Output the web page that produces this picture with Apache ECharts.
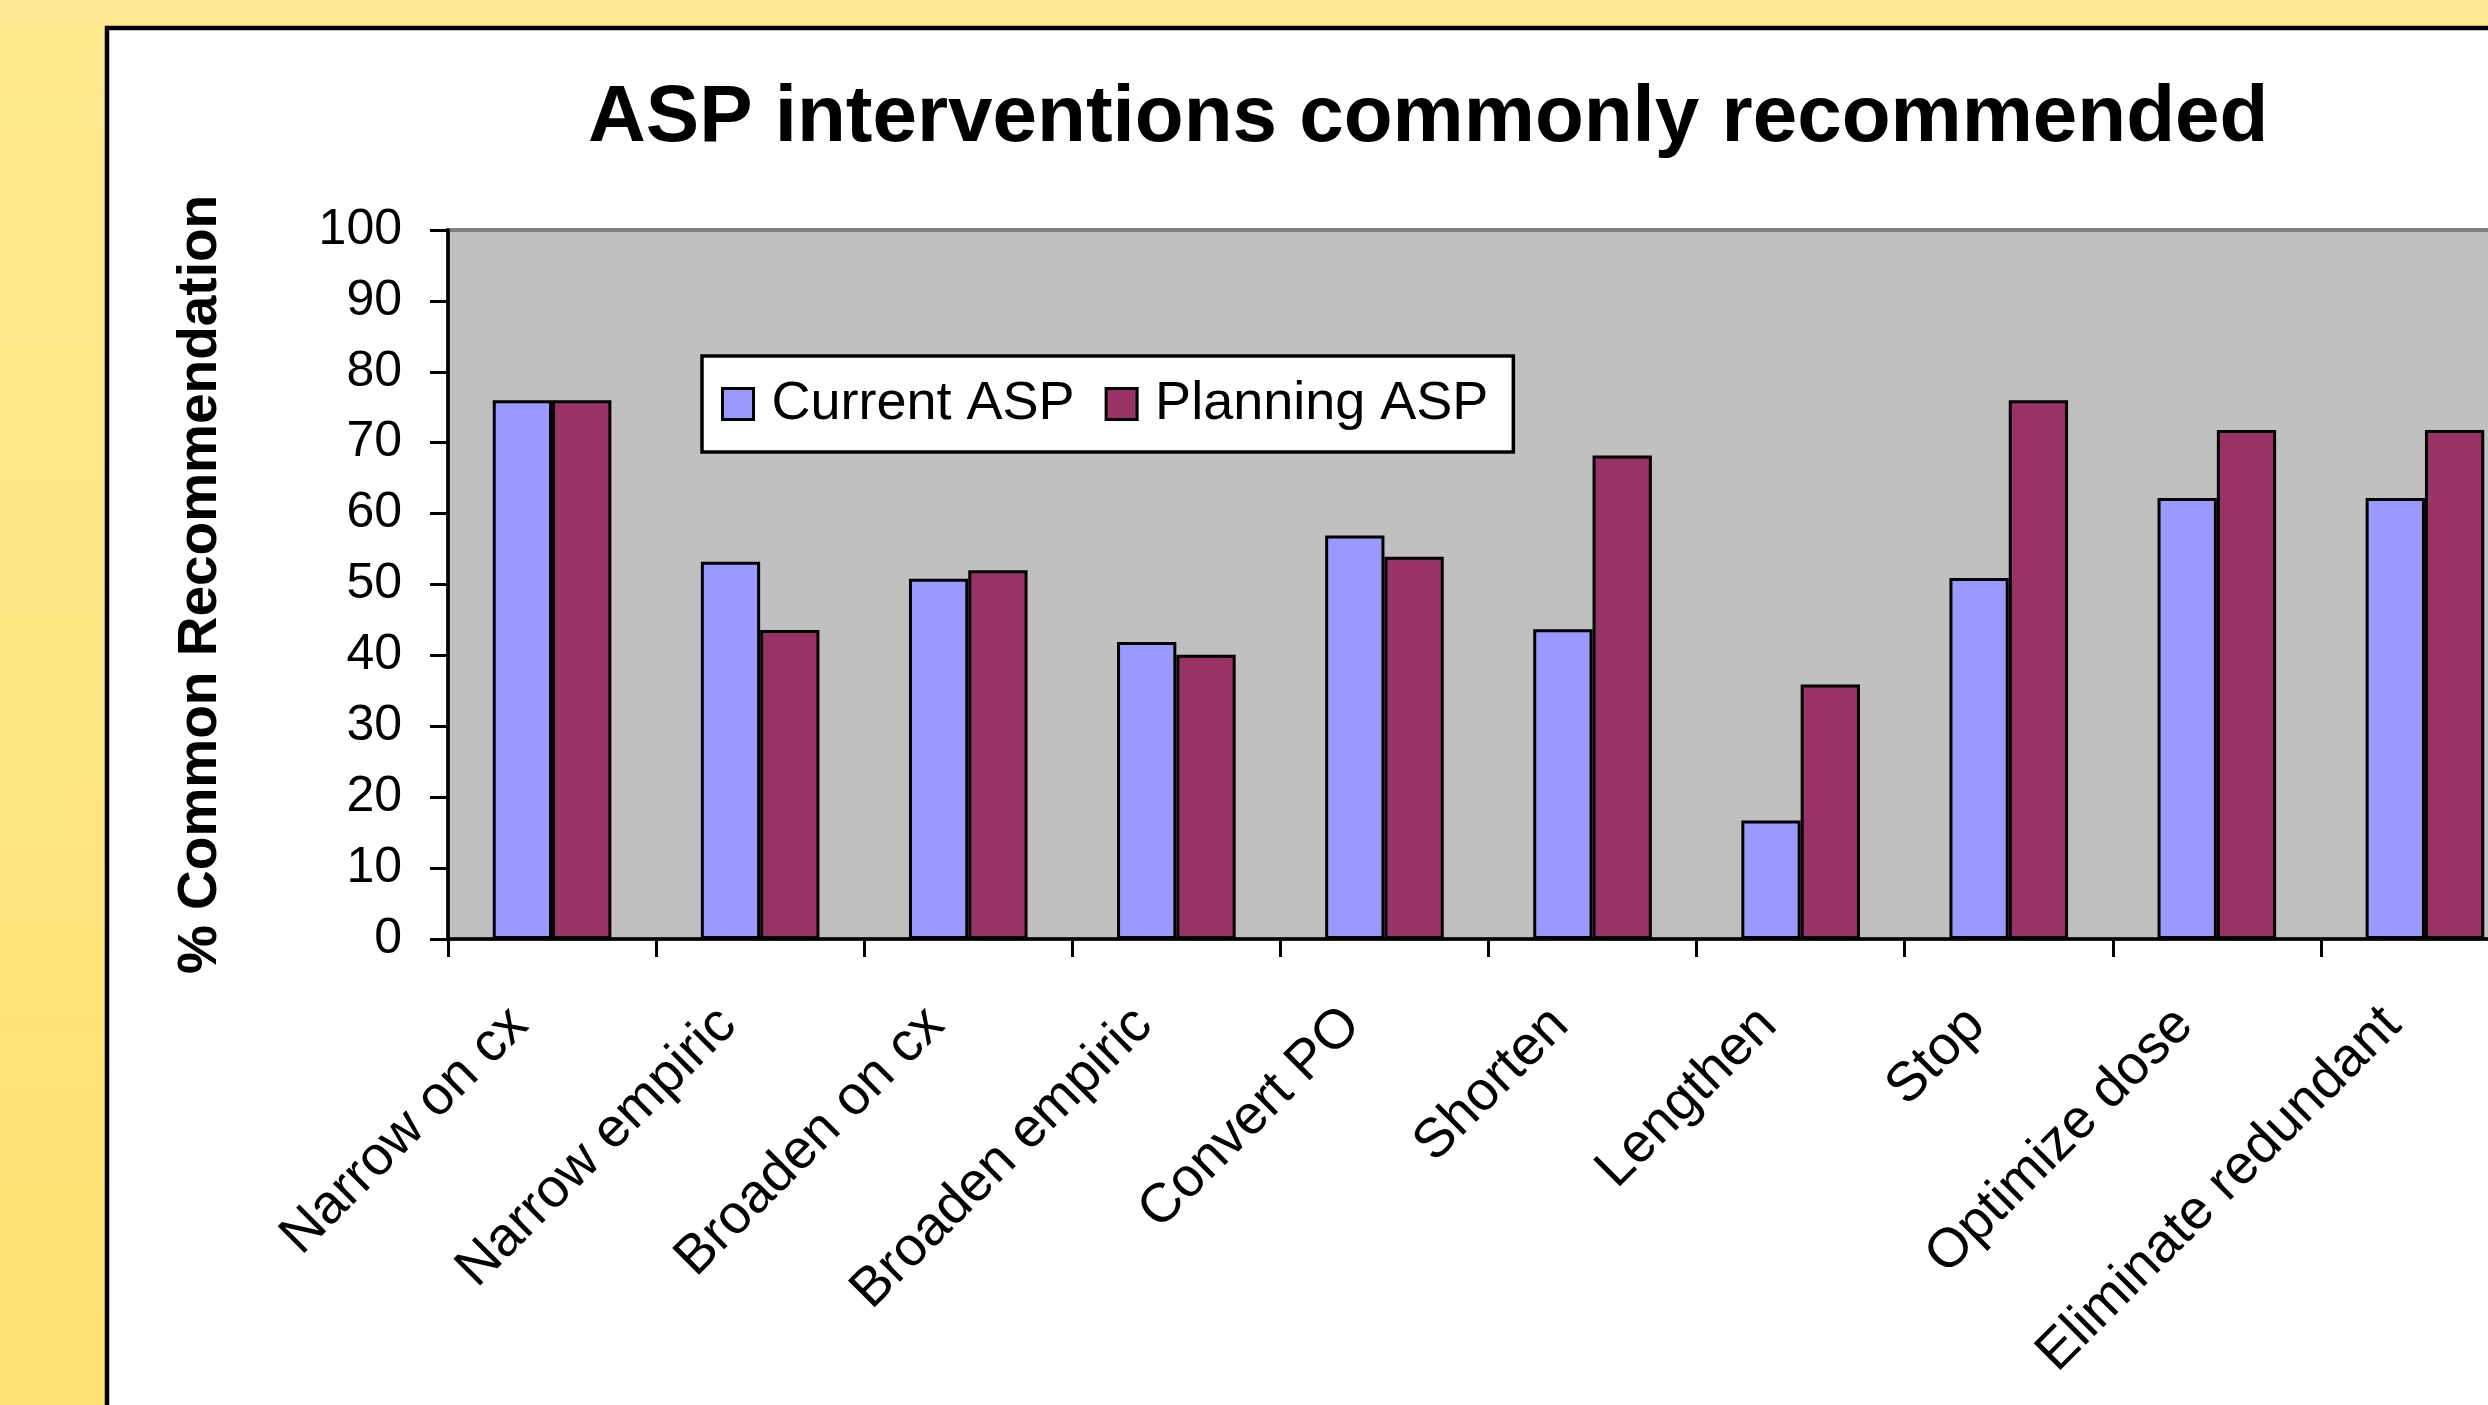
<!DOCTYPE html>
<html>
<head>
<meta charset="utf-8">
<script src="https://cdn.jsdelivr.net/npm/echarts@6/dist/echarts.min.js"></script>
<style>
  html, body { margin: 0; padding: 0; width: 2488px; height: 1405px; overflow: hidden; }
  #chart { width: 2488px; height: 1405px; }
</style>
</head>
<body>
<div id="chart"></div>
<script>
const categories = ['Narrow on cx', 'Narrow empiric', 'Broaden on cx', 'Broaden empiric', 'Convert PO', 'Shorten', 'Lengthen', 'Stop', 'Optimize dose', 'Eliminate redundant'];
const currentASP = [76, 53.2, 50.8, 41.9, 56.9, 43.7, 16.7, 50.9, 62.2, 62.2];
const planningASP = [76, 43.6, 52.0, 40.1, 53.9, 68.2, 35.9, 76.0, 71.8, 71.8];
const seriesNames = ['Current ASP', 'Planning ASP'];
const titleText = 'ASP interventions commonly recommended';
const yAxisTitle = '% Common Recommendation';

const FONT = '"Liberation Sans", Arial, sans-serif';
const chart = echarts.init(document.getElementById('chart'));

chart.setOption({
  animation: false,
  backgroundColor: {
    type: 'linear', x: 0, y: 0, x2: 0, y2: 1,
    colorStops: [{ offset: 0, color: '#FFE88F' }, { offset: 1, color: '#FFE273' }]
  },
  graphic: {
    elements: [{
      type: 'rect', z: -100, silent: true,
      shape: { x: 107, y: 28, width: 3000, height: 3000 },
      style: { fill: '#FFFFFF', stroke: '#000000', lineWidth: 4.5 }
    }]
  },
  title: {
    text: titleText,
    left: 588, top: 79, padding: 0,
    textStyle: { fontFamily: FONT, fontWeight: 'bold', fontSize: 80, color: '#000' }
  },
  legend: {
    data: seriesNames,
    left: 702, top: 356,
    orient: 'horizontal',
    padding: [21, 25, 21, 19],
    itemGap: 30,
    itemWidth: 31, itemHeight: 31,
    icon: 'rect',
    backgroundColor: '#FFFFFF',
    borderColor: '#000000', borderWidth: 3.5,
    itemStyle: { borderColor: '#000', borderWidth: 3 },
    textStyle: { fontFamily: FONT, fontSize: 54, color: '#000', padding: [0, 0, 0, 13] }
  },
  grid: {
    left: 448, top: 230, height: 709, width: 2081,
    outerBoundsMode: 'none',
    containLabel: false,
    show: true, backgroundColor: '#C0C0C0', borderColor: '#808080', borderWidth: 4
  },
  xAxis: {
    type: 'category',
    data: categories,
    axisLine: { lineStyle: { color: '#000', width: 3.5 } },
    axisTick: { show: true, length: 18, lineStyle: { color: '#000', width: 3 } },
    axisLabel: {
      interval: 0, rotate: 45, margin: 45,
      fontFamily: FONT, fontSize: 55, color: '#000',
      padding: [0, 46, 0, 0]
    },
    splitLine: { show: false }
  },
  yAxis: {
    type: 'value',
    min: 0, max: 100, interval: 10,
    name: yAxisTitle,
    nameLocation: 'middle',
    nameGap: 220,
    nameTextStyle: { fontFamily: FONT, fontWeight: 'bold', fontSize: 55, color: '#000' },
    axisLine: { show: true, lineStyle: { color: '#000', width: 3.5 } },
    axisTick: { show: true, length: 18, lineStyle: { color: '#000', width: 3 } },
    axisLabel: { fontFamily: FONT, fontSize: 50, color: '#000', margin: 46 },
    splitLine: { show: false }
  },
  series: [
    {
      name: seriesNames[0], type: 'bar', data: currentASP,
      barGap: '0%', barCategoryGap: '43%',
      itemStyle: { color: '#9999FF', borderColor: '#000', borderWidth: 3 }
    },
    {
      name: seriesNames[1], type: 'bar', data: planningASP,
      barGap: '0%', barCategoryGap: '43%',
      itemStyle: { color: '#993366', borderColor: '#000', borderWidth: 3 }
    }
  ]
});
</script>
</body>
</html>
